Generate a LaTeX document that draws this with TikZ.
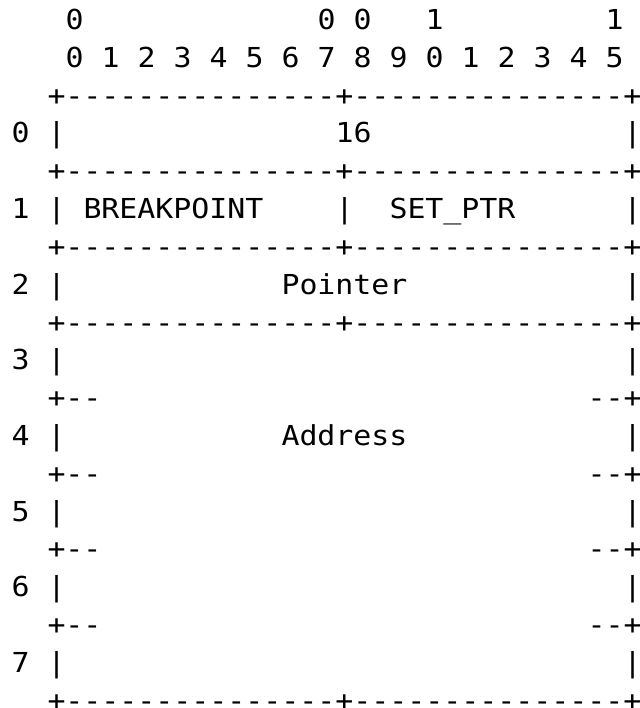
\documentclass[tikz,border=0pt]{standalone}
\usepackage{fontspec}
\newfontfamily\asciimono[Ligatures=TeXOff,FakeStretch=1.087]{DejaVu Sans Mono}
\newcommand\cw{18}
\newcommand\lp{37.8}
\newcommand\tx[4]{\node[txt] (#1) at ({11.5+\cw*#2},{29.6+\lp*(#3-1)}) {#4};}
\tikzset{txt/.style={anchor=base west,inner sep=0pt,outer sep=0pt,
  font=\asciimono\fontsize{27.5pt}{33pt}\selectfont,text=black}}
\begin{document}
\begin{tikzpicture}[x=1pt,y=-1pt]
\useasboundingbox[fill=white] (0,0) rectangle (639,708);
% top header
\tx{h0}{3}{1}{0}
\tx{h7}{17}{1}{0}
\tx{h8}{19}{1}{0}
\tx{h10}{23}{1}{1}
\tx{h15}{33}{1}{1}
\foreach \i in {0,...,15}{
  \pgfmathtruncatemacro\d{mod(\i,10)}
  \pgfmathtruncatemacro\c{3+2*\i}
  \node[txt] (b\i) at ({11.5+\cw*\c},{29.6+\lp*1}) {\d};
}
% full rules
\tx{r3}{2}{3}{+---------------+---------------+}
\tx{r5}{2}{5}{+---------------+---------------+}
\tx{r7}{2}{7}{+---------------+---------------+}
\tx{r9}{2}{9}{+---------------+---------------+}
\tx{r19}{2}{19}{+---------------+---------------+}
% partial rules
\foreach \l in {11,13,15,17}{
  \node[txt] (pl\l) at ({11.5+\cw*2},{29.6+\lp*(\l-1)}) {+--};
  \node[txt] (pr\l) at ({11.5+\cw*32},{29.6+\lp*(\l-1)}) {--+};
}
% word rows
\foreach \w/\l in {0/4,1/6,2/8,3/10,4/12,5/14,6/16,7/18}{
  \node[txt] (n\w) at ({11.5},{29.6+\lp*(\l-1)}) {\w};
  \node[txt] (lb\w) at ({11.5+\cw*2},{29.6+\lp*(\l-1)}) {|};
  \node[txt] (rb\w) at ({11.5+\cw*34},{29.6+\lp*(\l-1)}) {|};
}
\tx{f16}{18}{4}{16}
\tx{fbp}{4}{6}{BREAKPOINT}
\tx{fmid}{18}{6}{|}
\tx{fset}{21}{6}{SET\_PTR}
\tx{fptr}{15}{8}{Pointer}
\tx{faddr}{15}{12}{Address}
\end{tikzpicture}
\end{document}
